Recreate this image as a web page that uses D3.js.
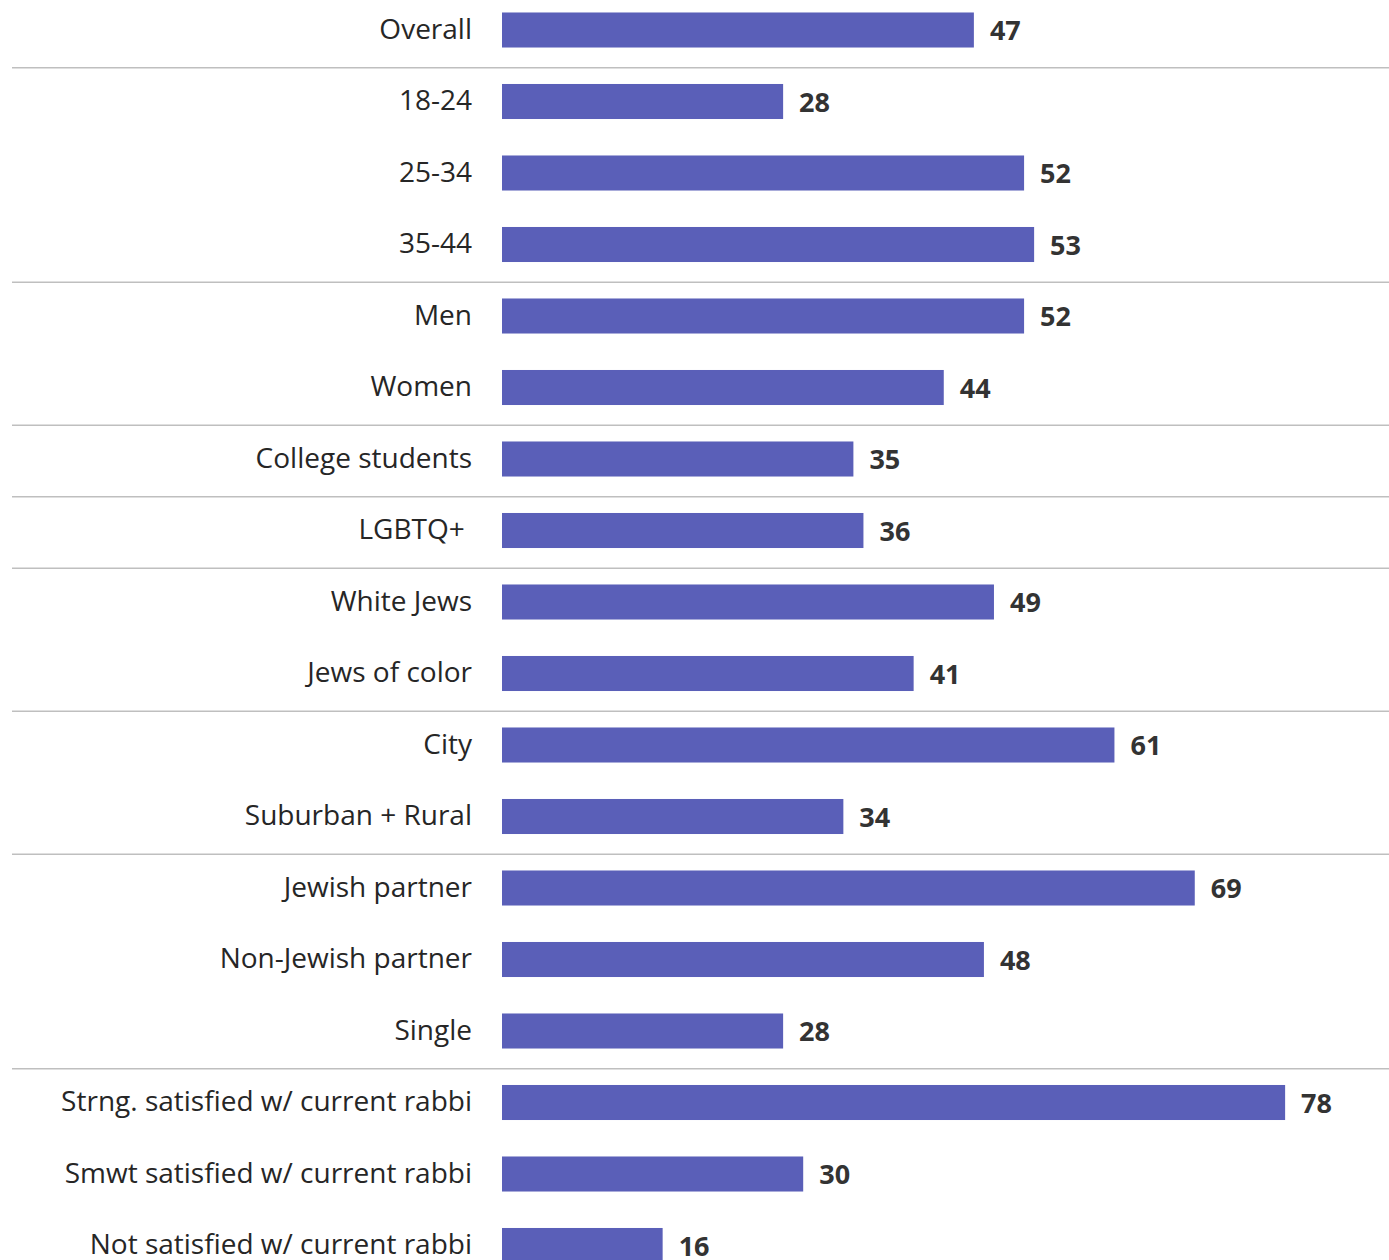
<!DOCTYPE html>
<html><head><meta charset="utf-8">
<script src="https://cdn.jsdelivr.net/npm/d3@7"></script>
<style>body{margin:0;background:#fff}svg{display:block}</style>
</head><body>
<script>
const categories = ["Overall","18-24","25-34","35-44","Men","Women","College students","LGBTQ+ ","White Jews","Jews of color","City","Suburban + Rural","Jewish partner","Non-Jewish partner","Single","Strng. satisfied w/ current rabbi","Smwt satisfied w/ current rabbi","Not satisfied w/ current rabbi"];
const values = [47,28,52,53,52,44,35,36,49,41,61,34,69,48,28,78,30,16];
const groupSizes = [1,3,2,1,1,2,2,3,3];

const W = 1389, H = 1260;
const svg = d3.select("body").append("svg").attr("width", W).attr("height", H);
const font = "'Open Sans', sans-serif";

const x = d3.scaleLinear().domain([0,100]).range([502, 1506]);
const y = d3.scaleBand().domain(categories).range([-5.75, 1281.25]).paddingInner(0.51).paddingOuter(0.255);

// separators
let acc = 0; const seps = [];
groupSizes.slice(0,-1).forEach(g => { acc += g; seps.push(acc); });
svg.selectAll("line.sep").data(seps).join("line").attr("class","sep")
  .attr("x1",12).attr("x2",W)
  .attr("y1", i => y(categories[i]) - (y.step()-y.bandwidth())/2 + 2)
  .attr("y2", i => y(categories[i]) - (y.step()-y.bandwidth())/2 + 2)
  .attr("stroke","#bfbfbf").attr("stroke-width",1.5);

const data = categories.map((c,i)=>({c, v: values[i]}));
svg.selectAll("rect.bar").data(data).join("rect").attr("class","bar")
  .attr("x", x(0)).attr("y", d=>y(d.c)).attr("width", d=>x(d.v)-x(0)).attr("height", y.bandwidth())
  .attr("fill","#5a5fb8");

svg.selectAll("text.cat").data(data).join("text").attr("class","cat")
  .attr("x", 472).attr("y", d=>y(d.c)+y.bandwidth()/2 - 1).attr("dy","0.35em")
  .attr("text-anchor","end").style("white-space","pre")
  .attr("font-family", font).attr("font-size", 28).attr("fill","#262626")
  .text(d=>d.c);

svg.selectAll("text.val").data(data).join("text").attr("class","val")
  .attr("x", d=>x(d.v)+16).attr("y", d=>y(d.c)+y.bandwidth()/2+1).attr("dy","0.35em")
  .attr("font-family", font).attr("font-weight","bold").attr("font-size", 27).attr("fill","#333333")
  .text(d=>d.v);
</script>
</body></html>
